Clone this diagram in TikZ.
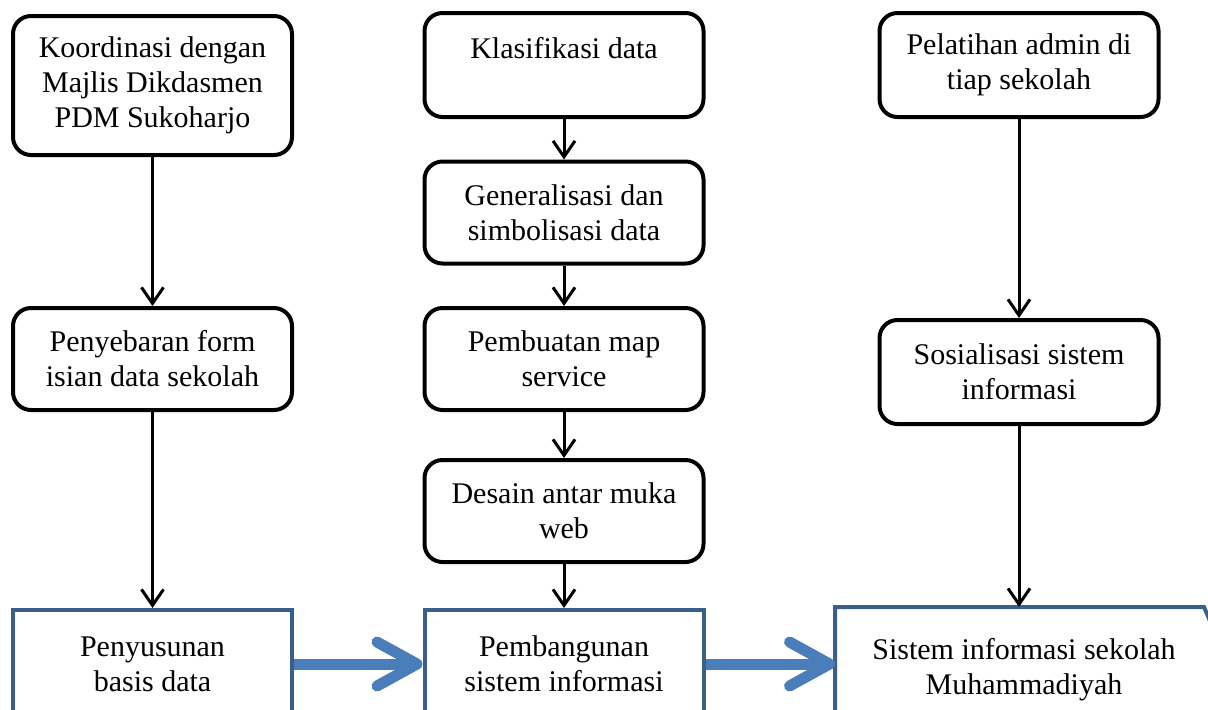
\documentclass[tikz,border=0pt]{standalone}
\usepackage{fontspec}
\setmainfont{Liberation Serif}
\usetikzlibrary{arrows.meta,positioning}

\definecolor{boxblue}{HTML}{3A5F8B}
\definecolor{arrowblue}{HTML}{4A7EBB}

\begin{document}
\begin{tikzpicture}[x=0.5pt,y=-0.5pt,on grid,
   box/.style={draw,line width=2pt,rounded corners=9pt,fill=white,align=center,
     inner sep=0pt,minimum width=139.5pt,minimum height=51pt,
     font=\fontsize{15}{17.5}\selectfont},
   bluebox/.style={box,draw=boxblue,rounded corners=0pt,minimum height=54pt},
   flow/.style={line width=1.5pt,-{Straight Barb[length=8pt,width=11pt]}},
   bigflow/.style={line width=5.5pt,draw=arrowblue,-{Straight Barb[length=20pt,width=22pt,round]}}]
   \useasboundingbox (0,0) rectangle (1208,709);
   \clip (0,0) rectangle (1208,709);

   % kolom kiri
   \node[box,minimum height=69.5pt] (koor) at (152.5,85.5) {Koordinasi dengan\\Majlis Dikdasmen\\PDM Sukoharjo};
   \node[box] (sebar) [below=136.75pt of koor] {Penyebaran form\\isian data sekolah};
   \node[bluebox] (susun) [below=152.5pt of sebar] {Penyusunan\\basis data};

   % kolom tengah
   \node[box,minimum height=52pt] (klas) at (564,65) {Klasifikasi data\\\mbox{}};
   \node[box] (gen) [below=73.75pt of klas] {Generalisasi dan\\simbolisasi data};
   \node[box] (buat) [below=73.25pt of gen] {Pembuatan map\\service};
   \node[box] (desain) [below=76pt of buat] {Desain antar muka\\web};
   \node[bluebox] (bangun) [below=76.5pt of desain] {Pembangunan\\sistem informasi};

   % kolom kanan
   \node[box,minimum height=52pt] (latih) at (1019,65) {Pelatihan admin di\\tiap sekolah};
   \node[box,minimum height=52pt] (sosial) [below=153.5pt of latih] {Sosialisasi sistem\\informasi};
   \node[box,draw=none,minimum width=187pt,minimum height=61pt] (sistem) [below=149pt of sosial,xshift=2.5pt] {Sistem informasi sekolah\\Muhammadiyah};
   \draw[boxblue,line width=2pt] (sistem.south west) -- (sistem.north west)
      -- ([xshift=-4.5pt]sistem.north east) -- ([yshift=-10.5pt]sistem.north east) -- (sistem.south east);

   \draw[flow] (koor) -- (sebar);
   \draw[flow] (sebar) -- (susun);
   \draw[flow] (klas) -- (gen);
   \draw[flow] (gen) -- (buat);
   \draw[flow] (buat) -- (desain);
   \draw[flow] (desain) -- (bangun);
   \draw[flow] (latih) -- (sosial);
   \draw[flow] (sosial) -- (sosial.south |- sistem.north);

   \draw[bigflow] (susun) -- (bangun);
   \draw[bigflow] (bangun.east) -- (bangun.east -| sistem.west);
\end{tikzpicture}
\end{document}
